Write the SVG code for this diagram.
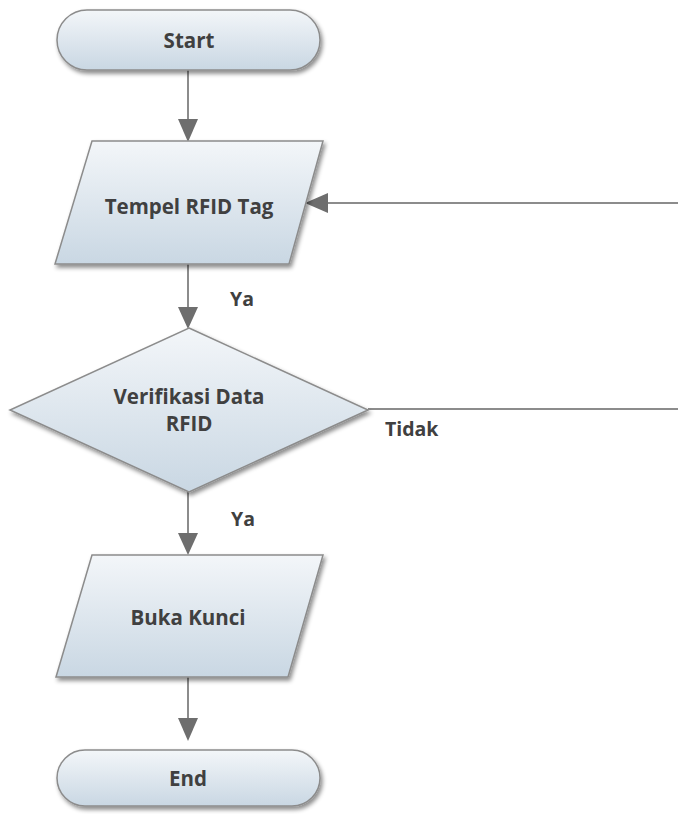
<svg xmlns="http://www.w3.org/2000/svg" width="678" height="814" viewBox="0 0 678 814">
<defs>
<linearGradient id="g" x1="0" y1="0" x2="0" y2="1">
<stop offset="0" stop-color="#f3f6f9"/>
<stop offset="1" stop-color="#c9d7e3"/>
</linearGradient>
<filter id="sh" x="-10%" y="-10%" width="125%" height="130%">
<feDropShadow dx="2" dy="3" stdDeviation="2" flood-color="#000" flood-opacity="0.45"/>
</filter>
</defs>
<style>
.shape{fill:url(#g);stroke:#8c8c8c;stroke-width:1.5;filter:url(#sh)}
.lbl{font-family:"Open Sans","Noto Sans",sans-serif;font-weight:bold;font-size:20.5px;fill:#404040;text-anchor:middle}
.clbl{font-family:"Open Sans","Noto Sans",sans-serif;font-weight:bold;font-size:19.5px;fill:#404040}
.con{fill:none;stroke:#8c8c8c;stroke-width:2}
.head{fill:#6e6e6e}
</style>
<rect width="678" height="814" fill="#fff"/>
<g id="connectors">
<line class="con" x1="188" y1="70" x2="188" y2="122"/>
<path class="head" d="M178,119 L198,119 L188,142 Z"/>
<line class="con" x1="188" y1="264" x2="188" y2="310"/>
<path class="head" d="M178,307 L198,307 L188,329 Z"/>
<line class="con" x1="188" y1="492" x2="188" y2="536"/>
<path class="head" d="M178,533 L198,533 L188,555 Z"/>
<line class="con" x1="188" y1="677" x2="188" y2="722"/>
<path class="head" d="M178,718 L198,718 L188,741 Z"/>
<path class="con" d="M368,409 H690 V203 H325"/>
<path class="head" d="M328,193 L328,213 L305,203 Z"/>
<text class="clbl" x="230" y="306">Ya</text>
<text class="clbl" x="385" y="436">Tidak</text>
<text class="clbl" x="231" y="526">Ya</text>
</g>
<g id="start">
<rect class="shape" x="57" y="10" width="263" height="60" rx="30" ry="30"/>
<text class="lbl" x="189" y="48">Start</text>
</g>
<g id="tempel">
<path class="shape" d="M92,141 L323,141 L289,264 L55,264 Z"/>
<text class="lbl" x="189" y="214">Tempel RFID Tag</text>
</g>
<g id="verifikasi">
<path class="shape" d="M189,328 L368,410 L189,492 L10,410 Z"/>
<text class="lbl" x="189" y="404">Verifikasi Data</text>
<text class="lbl" x="189" y="431">RFID</text>
</g>
<g id="buka">
<path class="shape" d="M92,555 L323,555 L288,677 L56,677 Z"/>
<text class="lbl" x="188" y="625">Buka Kunci</text>
</g>
<g id="end">
<rect class="shape" x="57" y="750" width="263" height="56" rx="28" ry="28"/>
<text class="lbl" x="188" y="786">End</text>
</g>
</svg>
